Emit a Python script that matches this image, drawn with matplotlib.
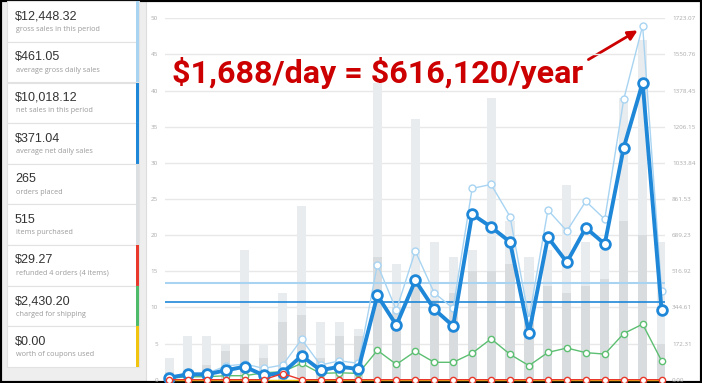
import matplotlib.pyplot as plt
from matplotlib.patches import Rectangle
import numpy as np

# dados por dia (27 dias)
dias = np.arange(27)
itens = [3, 6, 6, 5, 18, 5, 12, 24, 8, 8, 7, 41, 16, 36, 19, 17, 18, 39, 22, 17, 18, 27, 19, 18, 39, 47, 19]
pedidos = [1, 1, 2, 4, 5, 3, 8, 9, 3, 6, 6, 17, 10, 14, 11, 12, 15, 15, 16, 8, 13, 12, 13, 14, 22, 20, 5]
bruto = [14, 30, 30, 65, 75, 54, 70, 192, 70, 90, 78, 549, 332, 613, 414, 340, 912, 931, 778, 290,
         809, 709, 851, 765, 1336, 1688, 422]
liquido = [9.5, 25.7, 25.7, 44.7, 62, 21, 32, 114, 45, 62, 51, 402, 260, 473, 336, 256, 789, 728, 657, 221,
           679, 560, 724, 647, 1106, 1416, 330]
frete = [7, 14, 14, 19, 19, 33, 38, 78, 30, 33, 30, 140, 73, 135, 83, 83, 126, 195, 121, 67,
         130, 151, 129, 122, 220, 265, 90]
reembolso = [0, 0, 0, 0, 0, 0, 29.27, 0, 0, 0, 0, 0, 0, 0, 0, 0, 0, 0, 0, 0, 0, 0, 0, 0, 0, 0, 0]
cupons = [0] * 27
media_bruta = 461.05
media_liquida = 371.04

ticks_dir = ["0.00", "172.31", "344.61", "516.92", "689.23", "861.53", "1033.84",
             "1206.15", "1378.45", "1550.76", "1723.07"]

valores = ["$12,448.32", "$461.05", "$10,018.12", "$371.04", "265", "515", "$29.27", "$2,430.20", "$0.00"]
rotulos = ["gross sales in this period", "average gross daily sales", "net sales in this period",
           "average net daily sales", "orders placed", "items purchased", "refunded 4 orders (4 items)",
           "charged for shipping", "worth of coupons used"]
faixas = ["#a8d4f2", "#a8d4f2", "#1f87d8", "#1f87d8", "#dcdfe2", "#dcdfe2", "#e8392c", "#4dbb6a", "#f1c40f"]

titulo = "$1,688/day = $616,120/year"

fig = plt.figure(figsize=(7.02, 3.83), dpi=100)
fig.patch.set_facecolor("#eeeeee")

# fundo em coordenadas de pixel
bg = fig.add_axes([0, 0, 1, 1], zorder=0)
bg.set_xlim(0, 702)
bg.set_ylim(383, 0)
bg.axis("off")
bg.add_patch(Rectangle((146, 1), 556, 383, facecolor="white", edgecolor="#dddddd", lw=0.8))
bg.add_patch(Rectangle((0, 0), 702, 383, facecolor="none", edgecolor="black", lw=3))

# painel da esquerda
topo = 1.3
alt = 40.6
for i in range(9):
    y0 = topo + i * alt
    bg.add_patch(Rectangle((7.3, y0), 132, alt, facecolor="white", edgecolor="#e2e2e2", lw=0.8))
    bg.add_patch(Rectangle((136.3, y0), 3, alt, facecolor=faixas[i], edgecolor="none"))
    bg.text(15, y0 + 15.5, valores[i], fontsize=9, color="#333333", family="Liberation Sans", va="center")
    bg.text(15.5, y0 + 28.5, rotulos[i], fontsize=5.2, color="#9a9a9a", family="Open Sans", va="center")

# grafico
ax = fig.add_axes([165 / 702, 3.3 / 383, 500 / 702, 361.4 / 383], zorder=1)
ax.set_facecolor("none")
ax.set_xlim(-0.21, 26.18)
ax.set_ylim(0, 50)
ax.set_yticks(np.arange(0, 51, 5))
ax.yaxis.grid(True, color="#e8e8e8", lw=1)
ax.set_axisbelow(True)
ax.set_xticks([])
for s in ax.spines.values():
    s.set_visible(False)
ax.tick_params(axis="y", length=0, labelsize=4.5, labelcolor="#aaaaaa", pad=5)
for lb in ax.get_yticklabels():
    lb.set_family("Open Sans")

ax.bar(dias, itens, width=0.48, color="#e9ecee")
ax.bar(dias, pedidos, width=0.48, color="#d8dcdf")

ax2 = ax.twinx()
ax2.set_ylim(0, 1723.07)
ax2.set_yticks(np.linspace(0, 1723.07, 11))
ax2.set_yticklabels(ticks_dir, family="Open Sans")
ax2.tick_params(axis="y", length=0, labelsize=4.5, labelcolor="#aaaaaa", pad=5)
for s in ax2.spines.values():
    s.set_visible(False)

ax2.axhline(media_bruta, color="#a8d4f2", lw=1.5)
ax2.axhline(media_liquida, color="#1f87d8", lw=1.2)

ax2.plot(dias, cupons, color="#f1c40f", lw=1, clip_on=False)
ax2.plot(dias, frete, color="#5cbf72", lw=1, marker="o", ms=4.5, mfc="white", mec="#5cbf72", mew=1, clip_on=False)
ax2.plot(dias, bruto, color="#a8d4f2", lw=1, marker="o", ms=5, mfc="white", mec="#a8d4f2", mew=1, clip_on=False)
ax2.plot(dias, liquido, color="#1f87d8", lw=2.8, marker="o", ms=7, mfc="white", mec="#1f87d8", mew=2, clip_on=False)
ax2.plot(dias, reembolso, color="#e8392c", lw=1, marker="o", ms=4.5, mfc="white", mec="#e8392c", mew=1, clip_on=False)

# anotacao em vermelho
t = bg.text(172, 73, titulo, fontsize=30, fontweight="bold", color="#cc0000", parse_math=False,
            family=["Liberation Sans Narrow", "Roboto", "DejaVu Sans"], va="center", ha="left", zorder=5)
r = fig.canvas.get_renderer()
w = t.get_window_extent(renderer=r).width
t.set_fontsize(30 * 411 / w)
bg.annotate("", xy=(640, 29), xytext=(586, 61),
            arrowprops=dict(arrowstyle="-|>", color="#cc0000", lw=2, mutation_scale=14), zorder=5)

plt.savefig("out.png", dpi=100)
